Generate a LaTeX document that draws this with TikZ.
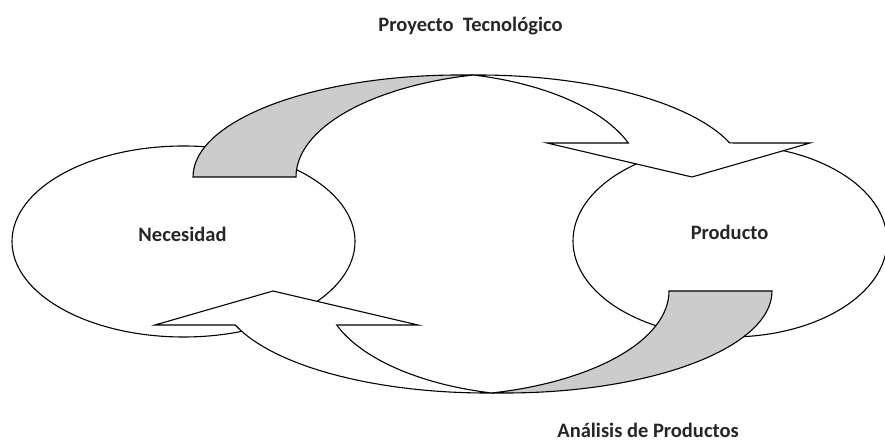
\documentclass[tikz,border=0pt]{standalone}
\usepackage{fontspec}
\setmainfont{Carlito}
\usetikzlibrary{shapes.geometric}

\definecolor{bandgray}{HTML}{CCCCCC}
\definecolor{labeltext}{HTML}{262626}

\tikzset{
  outline/.style={draw=black,line width=1.1pt,line join=miter},
  stage/.style={ellipse,outline,fill=white,inner sep=0pt},
  caption/.style={text=labeltext,font=\fontsize{20.5}{24}\selectfont\bfseries,inner sep=0pt,anchor=base},
  curved band/.pic={
    % back face of the band
    \filldraw[outline,fill=bandgray] (-289.5,57)
      arc[start angle=180,end angle=90,x radius=267,y radius=102]
      -- (-9.1,159)
      arc[start angle=104,end angle=180,x radius=234,y radius=105.1] -- cycle;
    % front face with the head
    \filldraw[outline,fill=white] (-9.1,159) -- (-4.5,159)
      arc[start angle=90,end angle=19.5,x radius=267,y radius=102]
      -- (327.5,91) -- (209.5,57) -- (64.5,91) -- (145.8,91)
      arc[start angle=19.5,end angle=76,x radius=221,y radius=106.8] -- cycle;
  }
}

\begin{document}
\begin{tikzpicture}[x=1pt,y=1pt]
  \useasboundingbox (0,0) rectangle (885,441);

  \node[stage,minimum width=343pt,minimum height=191pt] (necesidad) at (183.5,199.5) {};
  \node[stage,minimum width=314pt,minimum height=192pt] (producto) at (730,200) {};

  \pic at (482.5,207) {curved band};
  \pic[rotate=180] at (482.5,207) {curved band};

  \node[caption] (lblnec) at (182.5,199.3) {Necesidad};
  \node[caption] (lblprod) at (729.5,201.7) {Producto};
  \node[caption] (lbltop) at (470.5,409) {Proyecto\ \ Tecnológico};
  \node[caption] (lblbot) at (648,3.5) {Análisis de Productos};
\end{tikzpicture}
\end{document}
